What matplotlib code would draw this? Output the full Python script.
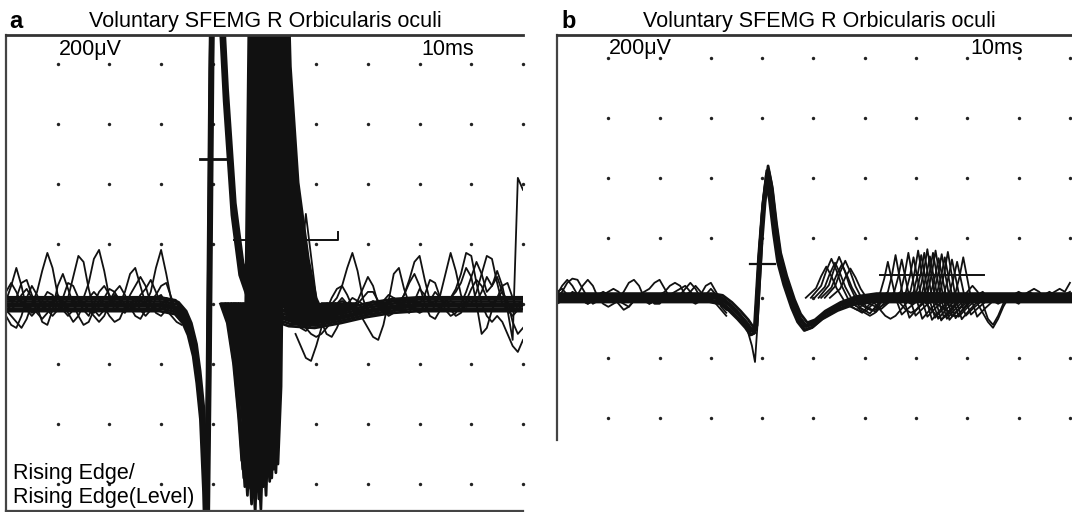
import numpy as np
import matplotlib
matplotlib.use("Agg")
import matplotlib.pyplot as plt
from matplotlib.transforms import Affine2D

plt.rcParams['font.family'] = ['Liberation Sans', 'DejaVu Sans']

# ---------------- labels ----------------
panel_letters = ["a", "b"]
panel_title = "Voluntary SFEMG R Orbicularis oculi"
gain_label = "200\u03bcV"
sweep_label = "10ms"
trigger_label = ["Rising Edge/", "Rising Edge(Level)"]

# ---------------- panel a (units: divisions; x 0..10, baseline y = 0) ----------------
a_grid_x = [1, 2, 3, 4, 5, 6, 7, 8, 9, 10]
a_grid_y = [-3, -2, -1, 0, 1, 2, 3, 4]

# triggered (stable) potential
a_stable_x = [0.0, 1.0, 2.0, 3.0, 3.3, 3.45, 3.55, 3.65, 3.72, 3.79, 3.85, 3.88, 3.92, 3.97, 4.02,
              4.1, 4.25, 4.4, 4.55, 4.75, 5.0, 5.5, 6.0, 6.5, 7.0, 7.5, 8.0, 9.0, 10.0]
a_stable_y = [0.0, 0.0, 0.0, 0.0, -0.05, -0.2, -0.4, -0.75, -1.2, -1.8, -3.0, -4.0, -1.0, 4.0, 7.0,
              6.0, 3.5, 1.6, 0.6, 0.1, -0.1, -0.25, -0.28, -0.2, -0.1, -0.03, 0.0, 0.0, 0.0]
a_stable_dx = [-0.03, -0.015, 0.0, 0.01, 0.02, 0.035, -0.02, 0.005]
a_stable_dy = [-0.12, -0.08, -0.04, 0.0, 0.04, 0.08, 0.11, -0.02]

# jittering second potential (shape relative to its latency)
a_jit_dx = [-0.45, -0.32, -0.2, -0.1, -0.04, 0.02, 0.12, 0.2, 0.35, 0.55, 0.7, 0.9, 1.2, 1.5]
a_jit_y = [0.0, -0.35, -1.1, -2.1, -2.9, -1.5, 7.0, 4.3, 2.2, 0.8, 0.1, -0.3, -0.15, 0.0]
a_jit_lat = [4.6, 4.62, 4.64, 4.66, 4.68, 4.69, 4.71, 4.72, 4.74, 4.75, 4.77, 4.79, 4.8, 4.81, 4.83,
             4.84, 4.86, 4.87, 4.88, 4.9, 4.91, 4.93, 4.94, 4.95, 4.97, 4.98, 5.0, 5.02, 5.03, 5.05,
             5.07, 5.08, 5.11, 5.13, 5.14, 5.16, 5.18, 5.2, 5.22, 5.24, 5.26, 5.28, 5.3]
a_jit_amp = [0.9, 0.95, 1.0, 1.05, 0.88, 0.9, 1.1, 0.97, 1.0, 0.92, 1.06, 1.15, 0.95, 1.02, 0.9,
             0.97, 1.2, 1.0, 1.08, 0.94, 1.03, 1.12, 0.9, 1.0, 1.18, 0.93, 0.96, 1.05, 0.98, 0.9,
             1.1, 0.95, 0.98, 0.9, 1.02, 0.93, 1.0, 0.88, 0.95, 0.92, 0.97, 0.9, 0.92]

# background activity of single sweeps
a_noise_left_x = [0.0, 0.1, 0.2, 0.3, 0.4, 0.5, 0.6, 0.7, 0.8, 0.9, 1.0, 1.1, 1.2, 1.3, 1.4, 1.5, 1.6,
                  1.7, 1.8, 1.9, 2.0, 2.1, 2.2, 2.3, 2.4, 2.5, 2.6, 2.7, 2.8, 2.9, 3.0, 3.1, 3.2, 3.3, 3.4]
a_noise_left_1 = [0.05, 0.3, 0.6, 0.3, -0.1, -0.2, -0.1, 0.0, 0.05, 0.0, -0.1, -0.05, 0.1, 0.45, 0.8, 0.7, 0.25,
                  -0.1, -0.2, -0.1, 0.0, 0.05, 0.0, -0.05, 0.0, 0.1, 0.05, 0.0, 0.2, 0.6, 0.9, 0.5, 0.05, -0.1, -0.2]
a_noise_left_2 = [-0.1, -0.2, -0.3, -0.4, -0.25, 0.0, 0.2, 0.55, 0.85, 0.6, 0.15, -0.1, -0.2, -0.1, 0.0, 0.1, 0.35,
                  0.75, 0.9, 0.55, 0.1, -0.1, 0.0, 0.2, 0.5, 0.6, 0.3, 0.0, -0.1, -0.05, 0.0, 0.05, 0.0, -0.1, -0.25]
a_noise_left_3 = [0.1, 0.05, 0.1, 0.35, 0.4, 0.15, -0.05, -0.3, -0.35, -0.1, 0.3, 0.5, 0.25, 0.0, -0.2, -0.35, -0.3,
                  -0.1, 0.05, 0.0, 0.05, 0.2, 0.3, 0.15, -0.05, -0.2, -0.25, -0.1, 0.05, 0.15, 0.3, 0.35, 0.1, -0.15, -0.3]
a_noise_left_4 = [-0.2, -0.35, -0.4, -0.2, 0.1, 0.3, 0.15, -0.05, -0.1, 0.0, 0.1, 0.0, -0.15, -0.3, -0.2, 0.0, 0.1,
                  0.2, 0.1, -0.05, -0.2, -0.3, -0.25, -0.05, 0.15, 0.3, 0.45, 0.3, 0.0, -0.15, -0.2, -0.1, 0.0, -0.1, -0.3]
a_noise_left_5 = [0.2, 0.35, 0.2, 0.0, -0.1, 0.0, 0.1, 0.0, -0.1, -0.2, -0.1, 0.1, 0.35, 0.3, 0.1, 0.0, -0.1,
                  -0.2, -0.3, -0.2, 0.0, 0.15, 0.1, 0.0, -0.1, 0.0, 0.15, 0.25, 0.4, 0.2, 0.0, -0.1, -0.2, -0.3, -0.35]
a_noise_left_6 = [0.0, -0.1, 0.0, 0.15, 0.25, 0.1, -0.15, -0.25, -0.15, 0.05, 0.15, 0.05, -0.05, 0.0, 0.05, -0.1, -0.2,
                  0.0, 0.2, 0.3, 0.15, 0.0, -0.1, -0.15, 0.0, 0.05, -0.1, -0.2, -0.1, 0.1, 0.15, 0.0, -0.1, -0.2, -0.3]
a_noise_left_7 = [-0.05, 0.0, 0.1, 0.05, -0.05, -0.15, -0.1, 0.05, 0.2, 0.15, 0.0, -0.1, -0.05, 0.05, 0.1, 0.0,
                  -0.1, -0.15, -0.05, 0.1, 0.25, 0.2, 0.05, -0.05, -0.1, -0.05, 0.05, 0.1, 0.0, -0.1, -0.05, 0.1,
                  0.05, -0.15, -0.3]

a_noise_right_x = [5.6, 5.7, 5.8, 5.9, 6.0, 6.1, 6.2, 6.3, 6.4, 6.5, 6.6, 6.7, 6.8, 6.9, 7.0, 7.1, 7.2, 7.3, 7.4,
                   7.5, 7.6, 7.7, 7.8, 7.9, 8.0, 8.1, 8.2, 8.3, 8.4, 8.5, 8.6, 8.7, 8.8, 8.9, 9.0, 9.1, 9.2,
                   9.3, 9.4, 9.5, 9.6, 9.7, 9.8, 9.9, 10.0]
a_noise_right_1 = [-0.3, -0.4, -0.45, -0.35, -0.2, -0.1, -0.05, 0.0, 0.1, 0.3, 0.6, 0.85, 0.55, 0.1, -0.15, -0.2, -0.1,
                   0.0, 0.0, -0.05, 0.0, 0.15, 0.4, 0.7, 0.8, 0.4, 0.05, -0.1, -0.05, 0.05, 0.1, 0.25, 0.5, 0.85,
                   0.8, 0.35, 0.0, -0.2, -0.3, -0.2, -0.3, -0.5, -0.7, -0.8, -0.6]
a_noise_right_2 = [-0.2, -0.3, -0.4, -0.5, -0.55, -0.5, -0.4, -0.3, -0.25, -0.2, -0.1, 0.0, -0.1, -0.25, -0.4, -0.55,
                   -0.6, -0.35, 0.05, 0.5, 0.6, 0.25, 0.0, -0.1, -0.15, -0.1, 0.0, 0.0, 0.15, 0.5, 0.85, 0.55, 0.15,
                   -0.05, 0.0, 0.2, 0.5, 0.8, 0.75, 0.35, 0.0, -0.1, -0.05, 0.0, 0.05]
a_noise_right_3 = [0.1, 0.6, 1.5, 0.8, 0.1, -0.3, -0.5, -0.55, -0.4, -0.2, 0.0, 0.1, 0.05, 0.25, 0.45, 0.3, 0.0,
                   -0.1, -0.15, -0.1, 0.0, 0.05, 0.0, -0.05, 0.0, 0.15, 0.4, 0.35, 0.1, -0.1, -0.2, -0.15, 0.0, 0.2,
                   0.45, 0.7, 0.5, 0.2, 0.3, 0.55, 0.3, -0.1, -0.6, 2.1, 1.9]
a_noise_right_4 = [-0.5, -0.7, -0.9, -0.95, -0.7, -0.4, -0.1, 0.1, 0.25, 0.3, 0.15, -0.05, -0.15, -0.1, 0.0, 0.05,
                   0.0, -0.1, -0.2, -0.15, 0.0, 0.15, 0.35, 0.5, 0.3, 0.0, -0.2, -0.25, -0.1, 0.05, 0.1, 0.2, 0.35,
                   0.6, 0.45, 0.0, -0.5, -0.4, -0.1, 0.1, 0.3, 0.35, 0.1, -0.1, 0.0]
a_noise_right_5 = [-0.15, -0.2, -0.25, -0.3, -0.3, -0.25, -0.2, -0.1, 0.0, 0.05, 0.0, -0.1, 0.0, 0.1, 0.2, 0.2, 0.05,
                   -0.05, 0.0, 0.1, 0.05, -0.1, -0.15, 0.05, 0.25, 0.15, 0.0, 0.05, 0.1, 0.0, -0.1, -0.2, -0.15, 0.0,
                   0.1, 0.05, 0.2, 0.45, 0.3, 0.45, 0.2, -0.1, -0.2, -0.1, 0.0]
a_noise_right_6 = [-0.3, -0.35, -0.3, -0.2, -0.15, -0.2, -0.3, -0.2, 0.0, 0.1, 0.0, -0.05, 0.05, 0.0, -0.1, -0.2,
                   -0.1, 0.05, 0.15, 0.1, -0.05, -0.1, 0.0, 0.1, 0.0, -0.1, 0.05, 0.2, 0.1, 0.0, 0.05, 0.0, -0.1,
                   0.05, 0.25, 0.4, 0.3, 0.1, 0.0, 0.1, 0.2, 0.05, -0.3, -0.5, -0.4]

# cursors (level markers)
a_cursor1_x = [3.75, 4.29]
a_cursor1_y = [2.42, 2.42]
a_cursor2_x = [4.41, 6.42, 6.42]
a_cursor2_y = [1.07, 1.07, 1.2]

# ---------------- panel b ----------------
b_grid_x = [1, 2, 3, 4, 5, 6, 7, 8, 9, 10]
b_grid_y = [-2, -1, 0, 1, 2, 3, 4]

b_stable_x = [0.0, 1.0, 2.0, 3.0, 3.2, 3.38, 3.55, 3.7, 3.8, 3.87, 3.92, 3.96, 4.03, 4.1, 4.17, 4.25,
              4.33, 4.45, 4.6, 4.72, 4.85, 5.0, 5.2, 5.5, 5.8, 6.2, 7.0, 8.0, 9.0, 10.1]
b_stable_y = [0.0, 0.0, 0.0, 0.0, -0.03, -0.15, -0.3, -0.45, -0.58, -0.55, 0.2, 0.8, 1.6, 2.1, 1.8, 1.2,
              0.7, 0.3, -0.1, -0.35, -0.5, -0.45, -0.3, -0.15, -0.05, 0.0, 0.0, 0.0, 0.0, 0.0]
b_stable_dx = [-0.03, -0.015, 0.0, 0.015, 0.03, -0.01]
b_stable_dy = [-0.07, -0.035, 0.0, 0.035, 0.07, 0.02]
b_stable_amp = [0.95, 1.0, 0.92, 1.03, 0.97, 1.0]

b_outlier_x = [3.5, 3.7, 3.8, 3.86, 3.92, 4.0]
b_outlier_y = [-0.2, -0.5, -0.8, -1.07, -0.3, 0.9]

b_g1_dx = [-0.4, -0.2, -0.1, 0.0, 0.1, 0.2, 0.4, 0.6, 0.85]
b_g1_y = [0.0, 0.2, 0.45, 0.65, 0.45, 0.2, -0.15, -0.25, 0.0]
b_g1_lat = [5.25, 5.35, 5.42, 5.5, 5.55, 5.62, 5.72]
b_g1_amp = [0.8, 1.0, 0.9, 1.05, 0.85, 0.95, 0.75]

b_g2_dx = [-0.3, -0.15, -0.07, 0.0, 0.07, 0.15, 0.27, 0.42, 0.65]
b_g2_y = [0.0, 0.1, 0.4, 0.75, 0.4, 0.0, -0.35, -0.2, 0.0]
b_g2_lat = [6.45, 6.6, 6.72, 6.85, 6.95, 7.04, 7.1, 7.16, 7.22, 7.27, 7.33, 7.38, 7.44, 7.5, 7.56,
            7.62, 7.7, 7.8, 7.92]
b_g2_amp = [0.8, 0.95, 0.85, 1.0, 0.9, 1.05, 0.95, 1.0, 1.08, 0.92, 1.0, 1.05, 0.88, 0.97, 0.9,
            1.02, 0.85, 0.8, 0.9]

b_noise_left_x = [0.0, 0.1, 0.2, 0.3, 0.4, 0.5, 0.6, 0.7, 0.8, 0.9, 1.0, 1.1, 1.2, 1.3, 1.4, 1.5, 1.6,
                  1.7, 1.8, 1.9, 2.0, 2.1, 2.2, 2.3, 2.4, 2.5, 2.6, 2.7, 2.8, 2.9, 3.0, 3.1, 3.2, 3.3]
b_noise_left_1 = [0.0, 0.1, 0.25, 0.32, 0.3, 0.15, 0.0, -0.1, -0.05, 0.0, 0.0, -0.05, 0.0, 0.1, 0.25, 0.3, 0.2,
                  0.0, -0.1, -0.05, 0.0, 0.0, 0.05, 0.1, 0.15, 0.2, 0.1, 0.0, 0.05, 0.2, 0.25, 0.1, -0.05, -0.15]
b_noise_left_2 = [0.1, 0.15, 0.05, -0.05, 0.05, 0.2, 0.3, 0.2, 0.0, -0.1, -0.15, -0.1, -0.05, -0.1, -0.15, -0.05,
                  0.05, 0.1, 0.15, 0.25, 0.3, 0.15, 0.0, -0.05, 0.0, 0.05, 0.1, 0.2, 0.1, 0.0, -0.05, -0.1, -0.2, -0.3]
b_noise_left_3 = [-0.1, -0.05, 0.0, 0.1, 0.05, -0.05, -0.1, -0.05, 0.05, 0.1, 0.05, 0.0, -0.1, -0.2, -0.15, -0.05,
                  0.0, -0.05, -0.1, -0.05, 0.05, 0.1, 0.2, 0.25, 0.2, 0.05, -0.05, -0.1, -0.05, 0.0, 0.05, 0.0, -0.1, -0.2]
b_noise_left_4 = [0.05, 0.2, 0.3, 0.2, 0.05, -0.05, -0.1, -0.05, 0.0, 0.05, 0.1, 0.15, 0.1, 0.0, -0.05, 0.0, 0.0,
                  0.05, 0.0, -0.1, -0.1, 0.0, 0.05, 0.0, 0.05, 0.15, 0.25, 0.15, 0.0, 0.05, 0.15, 0.05, -0.15, -0.25]

b_noise_right_x = [5.9, 6.0, 6.1, 6.2, 6.3, 6.4, 6.5, 6.6, 6.7, 6.8, 6.9, 7.0, 7.1, 7.2, 7.3, 7.4, 7.5, 7.6,
                   7.7, 7.8, 7.9, 8.0, 8.1, 8.2, 8.3, 8.4, 8.5, 8.6, 8.7, 8.8, 8.9, 9.0, 9.1, 9.2, 9.3, 9.4,
                   9.5, 9.6, 9.7, 9.8, 9.9, 10.0]
b_noise_right_1 = [-0.1, -0.15, -0.2, -0.2, -0.15, -0.1, -0.05, 0.0, 0.0, -0.05, -0.1, -0.05, 0.0, 0.0, -0.05, -0.1,
                   -0.15, -0.2, -0.3, -0.3, -0.2, -0.1, -0.05, 0.05, 0.1, 0.0, -0.05, -0.1, -0.05, 0.0, 0.05, 0.0,
                   0.05, 0.1, 0.05, 0.0, 0.0, 0.05, 0.1, 0.15, 0.1, 0.25]
b_noise_right_2 = [-0.2, -0.25, -0.3, -0.25, -0.1, 0.0, 0.05, 0.0, -0.1, -0.2, -0.25, -0.2, -0.1, -0.05, 0.0, 0.0,
                   -0.05, -0.1, -0.15, -0.1, 0.0, 0.1, 0.2, 0.1, -0.1, -0.35, -0.45, -0.3, -0.1, 0.0, -0.05, -0.1,
                   0.0, 0.1, 0.15, 0.1, 0.0, -0.05, 0.0, 0.05, 0.0, 0.05]
b_noise_right_3 = [0.0, 0.05, 0.0, -0.1, -0.2, -0.3, -0.35, -0.3, -0.2, -0.1, 0.0, 0.05, 0.0, -0.1, -0.2, -0.3,
                   -0.35, -0.3, -0.2, -0.1, 0.0, 0.05, 0.0, -0.1, -0.25, -0.4, -0.5, -0.35, -0.15, 0.0, 0.05, 0.1,
                   0.05, 0.0, -0.05, 0.0, 0.05, 0.1, 0.05, 0.0, 0.05, 0.1]

b_cursor1_x = [3.76, 4.25]
b_cursor1_y = [0.57, 0.57]
b_cursor2_x = [6.3, 8.33]
b_cursor2_y = [0.38, 0.38]

# ---------------- drawing ----------------
W, H = 1072, 512
fig = plt.figure(figsize=(W / 100, H / 100), dpi=100)
fig.patch.set_facecolor("white")


def px_axes(l, t, r, b):
    return fig.add_axes([l / W, 1 - b / H, (r - l) / W, (b - t) / H])


axa = px_axes(6, 35, 523, 511)
axb = px_axes(557, 35, 1072, 440)
axa.set_xlim(0, 10.0)
axa.set_ylim(-3.45, 4.48)
axb.set_xlim(0, 10.04)
axb.set_ylim(-2.37, 4.38)

TRACE = "#111111"
LW = 1.3
LW_DENSE = 2.0

for ax, gx, gy in [(axa, a_grid_x, a_grid_y), (axb, b_grid_x, b_grid_y)]:
    ax.set_xticks([])
    ax.set_yticks([])
    ax.set_facecolor("white")
    GX, GY = np.meshgrid(gx, gy)
    ax.scatter(GX.ravel(), GY.ravel(), s=6, color="#222222", zorder=1, linewidths=0, clip_on=False)


def shifted(ax, dx, dy=0.0, sy=1.0):
    return Affine2D().scale(1.0, sy).translate(dx, dy) + ax.transData


# panel a traces
for dx, dy in zip(a_stable_dx, a_stable_dy):
    axa.plot(a_stable_x, a_stable_y, color=TRACE, lw=LW_DENSE, transform=shifted(axa, dx, dy), zorder=2)
for lat, amp in zip(a_jit_lat, a_jit_amp):
    axa.plot(a_jit_dx, a_jit_y, color=TRACE, lw=LW_DENSE, transform=shifted(axa, lat, 0.0, amp), zorder=2)
for ys in [a_noise_left_1, a_noise_left_2, a_noise_left_3, a_noise_left_4, a_noise_left_5,
           a_noise_left_6, a_noise_left_7]:
    axa.plot(a_noise_left_x, ys, color=TRACE, lw=LW, zorder=2)
for ys in [a_noise_right_1, a_noise_right_2, a_noise_right_3, a_noise_right_4, a_noise_right_5, a_noise_right_6]:
    axa.plot(a_noise_right_x, ys, color=TRACE, lw=LW, zorder=2)
axa.plot(a_cursor1_x, a_cursor1_y, color=TRACE, lw=2.0, zorder=3)
axa.plot(a_cursor2_x, a_cursor2_y, color=TRACE, lw=1.4, zorder=3)

# panel b traces
for dx, dy, amp in zip(b_stable_dx, b_stable_dy, b_stable_amp):
    axb.plot(b_stable_x, b_stable_y, color=TRACE, lw=LW_DENSE, transform=shifted(axb, dx, dy, amp), zorder=2)
axb.plot(b_outlier_x, b_outlier_y, color=TRACE, lw=LW, zorder=2)
for lat, amp in zip(b_g1_lat, b_g1_amp):
    axb.plot(b_g1_dx, b_g1_y, color=TRACE, lw=LW, transform=shifted(axb, lat, 0.0, amp), zorder=2)
for lat, amp in zip(b_g2_lat, b_g2_amp):
    axb.plot(b_g2_dx, b_g2_y, color=TRACE, lw=LW, transform=shifted(axb, lat, 0.0, amp), zorder=2)
for ys in [b_noise_left_1, b_noise_left_2, b_noise_left_3, b_noise_left_4]:
    axb.plot(b_noise_left_x, ys, color=TRACE, lw=LW, zorder=2)
for ys in [b_noise_right_1, b_noise_right_2, b_noise_right_3]:
    axb.plot(b_noise_right_x, ys, color=TRACE, lw=LW, zorder=2)
axb.plot(b_cursor1_x, b_cursor1_y, color=TRACE, lw=1.6, zorder=3)
axb.plot(b_cursor2_x, b_cursor2_y, color=TRACE, lw=1.4, zorder=3)

# frames
for ax in (axa, axb):
    ax.spines["right"].set_visible(False)
    ax.spines["top"].set_linewidth(2.0)
    ax.spines["top"].set_color("#333333")
    ax.spines["left"].set_linewidth(1.6)
    ax.spines["left"].set_color("#444444")
axa.spines["bottom"].set_linewidth(1.6)
axa.spines["bottom"].set_color("#444444")
axb.spines["bottom"].set_visible(False)

# texts
FS = 15.5


def ftext(x, y, s, **kw):
    fig.text(x / W, 1 - y / H, s, **kw)


ftext(9, 27.5, panel_letters[0], fontsize=17, fontweight="bold", va="baseline", ha="left")
ftext(561, 27.5, panel_letters[1], fontsize=17, fontweight="bold", va="baseline", ha="left")
ftext(265, 27.5, panel_title, fontsize=FS, va="baseline", ha="center")
ftext(819, 27.5, panel_title, fontsize=FS, va="baseline", ha="center")
ftext(59, 55, gain_label, fontsize=FS, va="baseline", ha="left")
ftext(421, 55, sweep_label, fontsize=FS, va="baseline", ha="left")
ftext(609, 54, gain_label, fontsize=FS, va="baseline", ha="left")
ftext(970, 54, sweep_label, fontsize=FS, va="baseline", ha="left")
ftext(13, 479, trigger_label[0], fontsize=FS, va="baseline", ha="left")
ftext(13, 503, trigger_label[1], fontsize=FS, va="baseline", ha="left")

fig.savefig("out.png", dpi=100, facecolor="white")
